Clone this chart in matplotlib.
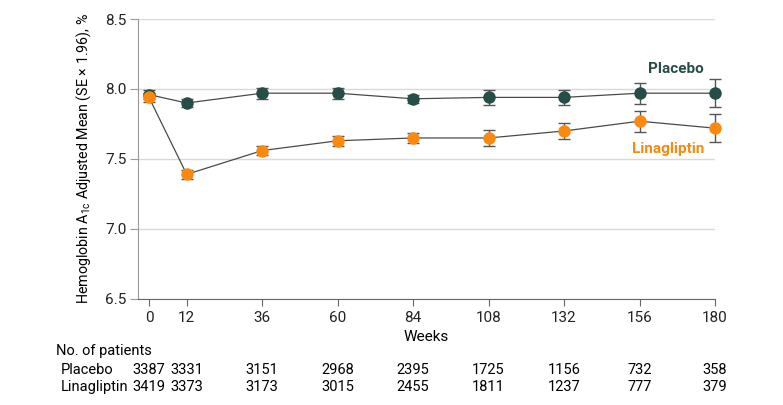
import matplotlib.pyplot as plt
from matplotlib import transforms

# Data
weeks = [0, 12, 36, 60, 84, 108, 132, 156, 180]
placebo = [7.96, 7.90, 7.97, 7.97, 7.93, 7.94, 7.94, 7.97, 7.97]
placebo_err = [0.03, 0.03, 0.04, 0.04, 0.03, 0.055, 0.055, 0.076, 0.098]
lina = [7.94, 7.39, 7.56, 7.63, 7.65, 7.65, 7.70, 7.77, 7.72]
lina_err = [0.03, 0.03, 0.035, 0.035, 0.035, 0.055, 0.057, 0.076, 0.098]
n_placebo = [3387, 3331, 3151, 2968, 2395, 1725, 1156, 732, 358]
n_lina = [3419, 3373, 3173, 3015, 2455, 1811, 1237, 777, 379]

plt.rcParams['font.family'] = ['Roboto', 'DejaVu Sans']
plt.rcParams['mathtext.default'] = 'regular'

teal = '#264d47'
orange = '#f98a0f'
line_c = '#4a4a4a'
fs = 11
tfs = 10.5  # table font

fig = plt.figure(figsize=(7.83, 4.05), dpi=100)
ax = fig.add_axes([0.1762, 0.262, 0.737, 0.691])

# Error bars first, then line and markers on top
for y, e in [(placebo, placebo_err), (lina, lina_err)]:
    ax.errorbar(weeks, y, yerr=e, fmt='none', ecolor='#555555', elinewidth=1,
                capsize=4.5, capthick=1, clip_on=False, zorder=3)
ax.plot(weeks, placebo, color=line_c, lw=0.9, zorder=2)
ax.plot(weeks, lina, color=line_c, lw=0.9, zorder=2)
ax.plot(weeks, placebo, 'o', color=teal, ms=9, mec='none', zorder=4, clip_on=False)
ax.plot(weeks, lina, 'o', color=orange, ms=9, mec='none', zorder=4, clip_on=False)

ax.text(176.5, 8.14, 'Placebo', color=teal, fontsize=fs, fontweight='bold',
        ha='right', va='center')
ax.text(176.5, 7.57, 'Linagliptin', color=orange, fontsize=fs, fontweight='bold',
        ha='right', va='center')

ax.set_xlim(-3.5, 180)
ax.set_ylim(6.5, 8.5)
ax.set_xticks(weeks)
ax.set_yticks([6.5, 7.0, 7.5, 8.0, 8.5])
ax.set_yticklabels(['6.5', '7.0', '7.5', '8.0', '8.5'])
ax.tick_params(axis='both', labelsize=fs, colors='#222222')
ax.tick_params(axis='y', length=6, color='#999999', pad=2)
ax.tick_params(axis='x', length=5, color='#666666', pad=4)
ax.grid(axis='y', color='#d9d9d9', lw=1)
ax.set_axisbelow(True)
for s in ['top', 'right']:
    ax.spines[s].set_visible(False)
ax.spines['left'].set_color('#999999')
ax.spines['bottom'].set_color('#666666')

ax.set_xlabel('Weeks', fontsize=fs, labelpad=3)
ax.set_ylabel('Hemoglobin A$_{1c}$ Adjusted Mean (SE × 1.96), %', fontsize=10.3, labelpad=9)

# Number at risk table
trans = transforms.blended_transform_factory(ax.transData, fig.transFigure)
fig.text(56 / 783, 1 - 351 / 405, 'No. of patients', fontsize=tfs, va='center')
fig.text(61 / 783, 1 - 370 / 405, 'Placebo', fontsize=tfs, va='center')
fig.text(61 / 783, 1 - 387 / 405, 'Linagliptin', fontsize=tfs, va='center')
for w, a, b in zip(weeks, n_placebo, n_lina):
    ax.text(w, 1 - 370 / 405, str(a), transform=trans, fontsize=tfs, ha='center', va='center')
    ax.text(w, 1 - 387 / 405, str(b), transform=trans, fontsize=tfs, ha='center', va='center')

fig.savefig('out.png', dpi=100)
